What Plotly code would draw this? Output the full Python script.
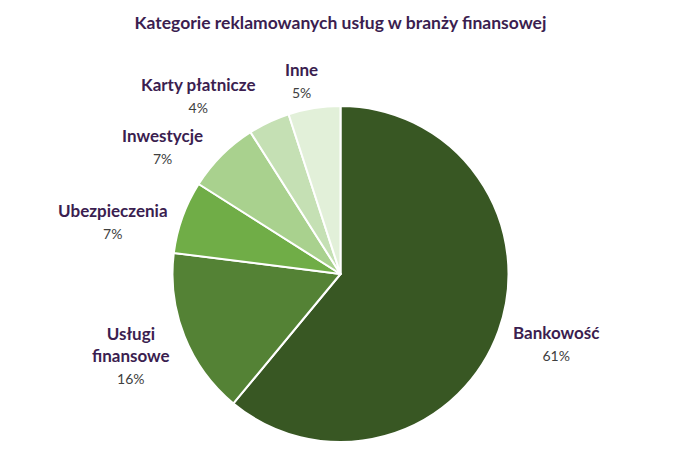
import math

import plotly.graph_objects as go

categories = ["Bankowość", "Usługi finansowe", "Ubezpieczenia", "Inwestycje", "Karty płatnicze", "Inne"]
label_text = ["Bankowość", "Usługi<br>finansowe", "Ubezpieczenia", "Inwestycje", "Karty płatnicze", "Inne"]
shares = [61, 16, 7, 7, 4, 5]
colors = ["#385723", "#548235", "#70AD47", "#A9D18E", "#C5E0B4", "#E2F0D9"]

W, H = 681, 455
# page body adds an 8px offset, so the margins are shifted to compensate
TOP, BOTTOM, LEFT, RIGHT = 98, 21, 0, 16
radius_px = (H - TOP - BOTTOM) / 2
label_r = radius_px * 1.08

# small hand nudges (px) for labels, like Excel's overlap avoidance
LABEL_NUDGE = {
    "Usługi finansowe": (0, -6),
    "Inwestycje": (-7, -15),
    "Karty płatnicze": (-5, 0),
    "Inne": (8, 0),
}

NAME_COLOR = "#3B1E50"
PCT_COLOR = "#404040"
FONT = "Lato, 'Open Sans', sans-serif"

fig = go.Figure()
fig.add_trace(go.Pie(
    labels=categories,
    values=shares,
    sort=False,
    direction="clockwise",
    rotation=0,
    marker=dict(colors=colors, line=dict(color="white", width=2)),
    textinfo="none",
    hoverinfo="label+percent",
    showlegend=False,
    domain=dict(x=[0, 1], y=[0, 1]),
))

# labels placed outside along each slice's mid-angle
total = sum(shares)
cum = 0
annotations = []
for cat, name, val in zip(categories, label_text, shares):
    mid = (cum + val / 2) / total * 2 * math.pi
    cum += val
    sx = math.sin(mid)
    cy = math.cos(mid)
    xanchor = "left" if sx > 0 else "right"
    if cy > 0.7:
        yanchor = "bottom"
    elif cy < -0.7:
        yanchor = "top"
    else:
        yanchor = "middle"
    nx, ny = LABEL_NUDGE.get(cat, (0, 0))
    pct = round(val / total * 100)
    annotations.append(dict(
        x=0.5, y=0.5, xref="paper", yref="paper",
        xshift=label_r * sx + nx, yshift=label_r * cy - 8 + ny,
        xanchor=xanchor, yanchor=yanchor, align="center",
        showarrow=False,
        text=(f"<b><span style='color:{NAME_COLOR}'>{name}</span></b><br>"
              f"<span style='color:{PCT_COLOR};font-size:14px'>{pct}%</span>"),
        font=dict(family=FONT, size=17, color=NAME_COLOR),
    ))

fig.update_layout(
    width=W,
    height=H,
    title=dict(
        text="<b>Kategorie reklamowanych usług w branży finansowej</b>",
        x=(W - RIGHT - LEFT) / 2 / W, xanchor="center",
        y=1 - 15 / H, yanchor="middle",
        font=dict(family=FONT, size=17.5, color=NAME_COLOR),
    ),
    margin=dict(l=LEFT, r=RIGHT, t=TOP, b=BOTTOM),
    paper_bgcolor="white",
    plot_bgcolor="white",
    annotations=annotations,
)

fig.write_html("out.html")
